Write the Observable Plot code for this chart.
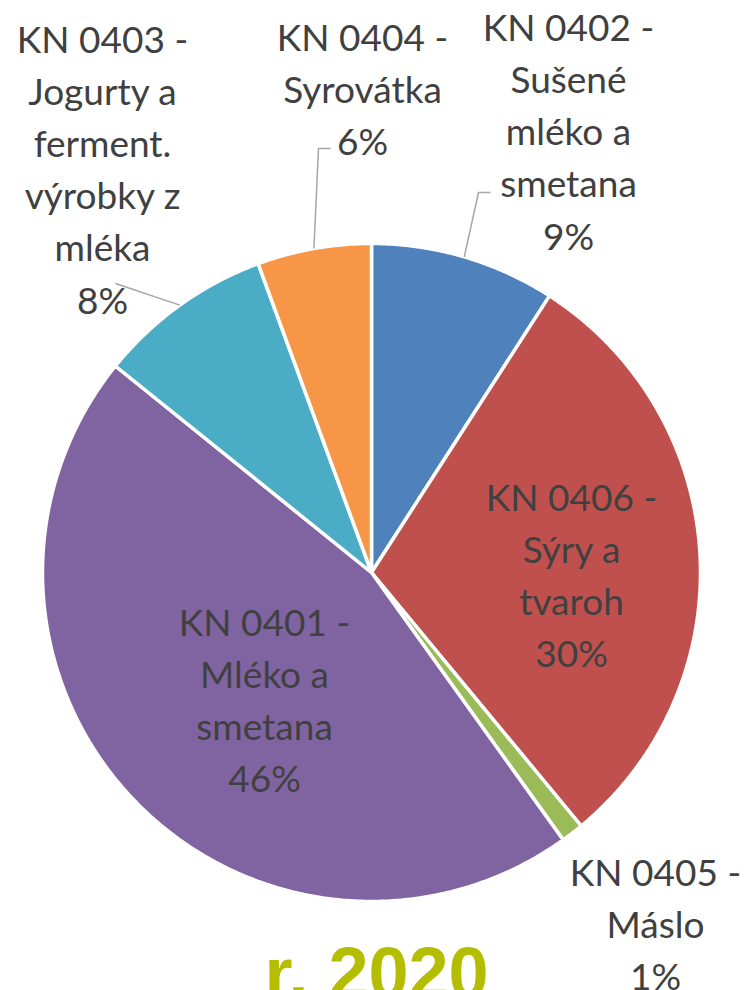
<!DOCTYPE html>
<html>
<head>
<meta charset="utf-8">
<script src="https://cdn.jsdelivr.net/npm/d3@7"></script>
<script src="https://cdn.jsdelivr.net/npm/@observablehq/plot@0.6"></script>
<style>
  html, body { margin: 0; padding: 0; background: #ffffff; }
  #chart svg { display: block; }
</style>
</head>
<body>
<div id="chart"></div>
<script>
// ---- data ----
const codes = ["KN 0402", "KN 0406", "KN 0405", "KN 0401", "KN 0403", "KN 0404"];
const names = ["Sušené\nmléko a\nsmetana", "Sýry a\ntvaroh", "Máslo", "Mléko a\nsmetana", "Jogurty a\nferment.\nvýrobky z\nmléka", "Syrovátka"];
const values = [9.1, 29.9, 1.1, 45.7, 8.6, 5.6];
const percentLabels = ["9%", "30%", "1%", "46%", "8%", "6%"];
const title = "r. 2020";

// ---- styles / layout ----
const colors = ["#4F81BD", "#C0504D", "#9BBB59", "#8064A2", "#4BACC6", "#F79646"];
const W = 746, H = 990;
const cx = 371, cy = 572, R = 329;
// label block centres (pixels) and leader line bends
const labelPos = [
  {x: 568, y: 128, leader: [[478, 192], [490, 192]]},
  {x: 571, y: 572, leader: null},
  {x: 655, y: 921, leader: null},
  {x: 264, y: 697, leader: null},
  {x: 102, y: 166, leader: [[115, 283]]},
  {x: 362, y: 86,  leader: [[318, 148], [330, 148]]}
];

// ---- geometry from values ----
const total = d3.sum(values);
const slices = [];
let acc = 0;
values.forEach((v, i) => {
  const a0 = acc / total * 2 * Math.PI;
  acc += v;
  const a1 = acc / total * 2 * Math.PI;
  slices.push({key: codes[i], a0, a1, mid: (a0 + a1) / 2});
});
const pt = (a, r) => [cx + r * Math.sin(a), cy - r * Math.cos(a)];

const polyPts = [];
slices.forEach(s => {
  polyPts.push({key: s.key, x: cx, y: cy});
  const n = Math.max(2, Math.ceil((s.a1 - s.a0) / (Math.PI / 360)));
  for (let k = 0; k <= n; k++) {
    const [x, y] = pt(s.a0 + (s.a1 - s.a0) * k / n, R);
    polyPts.push({key: s.key, x, y});
  }
  polyPts.push({key: s.key, x: cx, y: cy});
});

const leaderPts = [];
slices.forEach((s, i) => {
  const L = labelPos[i].leader;
  if (!L) return;
  const [x0, y0] = pt(s.mid, R);
  leaderPts.push({key: s.key, x: x0, y: y0});
  L.forEach(([x, y]) => leaderPts.push({key: s.key, x, y}));
});

const labels = codes.map((c, i) => ({
  text: `${c} -\n${names[i]}\n${percentLabels[i]}`,
  x: labelPos[i].x, y: labelPos[i].y
}));

const chart = Plot.plot({
  width: W,
  height: H,
  margin: 0,
  style: {background: "#ffffff"},
  x: {domain: [0, W], range: [0, W], axis: null},
  y: {domain: [0, H], range: [0, H], axis: null},
  color: {domain: codes, range: colors},
  marks: [
    Plot.line(polyPts, {x: "x", y: "y", z: "key", fill: "key", stroke: "#ffffff", strokeWidth: 3.5, strokeLinejoin: "miter", strokeMiterlimit: 4}),
    Plot.line(leaderPts, {x: "x", y: "y", z: "key", stroke: "#a6a6a6", strokeWidth: 1.5, strokeLinejoin: "miter", strokeLinecap: "butt"}),
    Plot.text(labels, {x: "x", y: "y", text: "text", lineAnchor: "middle", lineHeight: 1.41, fontSize: 37, fontFamily: "Lato, 'Open Sans', sans-serif", fill: "#404040", textAnchor: "middle"}),
    Plot.text([title], {x: () => 376, y: () => 974, text: d => d, fontSize: 72, fontWeight: "bold", fontFamily: "'Liberation Sans', Arial, sans-serif", fill: "#b5bd00", textAnchor: "middle", lineAnchor: "middle"})
  ]
});
document.getElementById("chart").append(chart);
</script>
</body>
</html>
